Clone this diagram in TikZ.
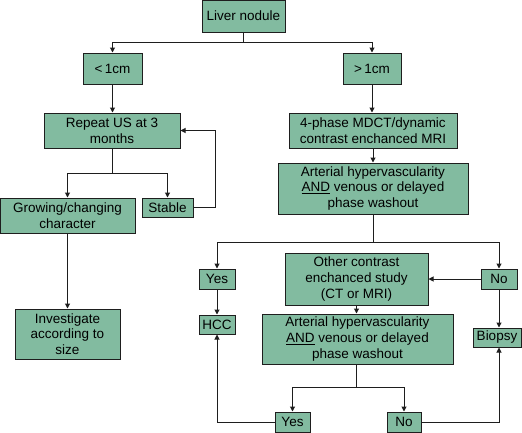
\documentclass[tikz,border=0pt]{standalone}
\usepackage{fontspec}
\setmainfont{Liberation Sans}
\usetikzlibrary{arrows.meta}
\definecolor{boxgreen}{RGB}{130,187,160}
\definecolor{edge}{RGB}{30,30,30}
\tikzset{
  box/.style={draw=edge, fill=boxgreen, line width=1pt, inner sep=0pt, align=center,
    font=\fontsize{13.5}{15.8}\selectfont},
  conn/.style={draw=edge, line width=1pt},
  arr/.style={conn, -{Triangle[length=5pt,width=5pt]}}
}
\begin{document}
\begin{tikzpicture}[x=1pt,y=-1pt]
\useasboundingbox (0,0) rectangle (522,432);
\node[box, minimum width=83pt, minimum height=32pt] (liver) at (243.5,16) {Liver nodule};
\node[box, minimum width=59pt, minimum height=31pt] (lt) at (112.5,68.5) {<\,1cm};
\node[box, minimum width=58pt, minimum height=31pt] (gt) at (372,68.5) {>\,1cm};
\node[box, minimum width=136pt, minimum height=35pt] (repeat) at (112,130.5) {Repeat US at 3\\months};
\node[box, minimum width=168pt, minimum height=35pt] (phase) at (373,130.5) {4-phase MDCT/dynamic\\contrast enchanced MRI};
\node[box, minimum width=190pt, minimum height=51pt] (art1) at (373,188.5) {Arterial hypervascularity\\\underline{AND} venous or delayed\\phase washout};
\node[box, minimum width=135pt, minimum height=35pt] (grow) at (67.5,215.5) {Growing/changing\\character};
\node[box, minimum width=51pt, minimum height=19pt] (stable) at (167.5,207.5) {Stable};
\node[box, minimum width=105pt, minimum height=50pt] (invest) at (67.5,334) {Investigate\\according to\\size};
\node[box, minimum width=36pt, minimum height=20pt] (yes1) at (217,279) {Yes};
\node[box, minimum width=36pt, minimum height=19pt] (hcc) at (217,324.5) {HCC};
\node[box, minimum width=143pt, minimum height=52pt] (other) at (356.5,279) {Other contrast\\enchanced study\\(CT or MRI)};
\node[box, minimum width=36pt, minimum height=20pt] (no1) at (499,279) {No};
\node[box, minimum width=191pt, minimum height=50pt] (art2) at (357.5,339) {Arterial hypervascularity\\\underline{AND} venous or delayed\\phase washout};
\node[box, minimum width=48pt, minimum height=19pt] (biopsy) at (497,337.5) {Biopsy};
\node[box, minimum width=35pt, minimum height=20pt] (yes2) at (292.5,422) {Yes};
\node[box, minimum width=34pt, minimum height=20pt] (no2) at (404,422) {No};

\coordinate (j1) at (243.5,42);
\coordinate (j2) at (112,173);
\coordinate (s1) at (215,130.5);
\coordinate (j3) at (373,242);
\coordinate (j4) at (356.5,387);

\draw[conn] (liver) -- (j1);
\draw[arr] (j1) -| (lt);
\draw[arr] (j1) -| (gt);
\draw[arr] (lt) -- (lt.south |- repeat.north);
\draw[arr] (gt) -- (gt.south |- phase.north);
\draw[arr] (phase) -- (phase.south |- art1.north);
\draw[conn] (repeat) -- (j2);
\draw[arr] (j2) -| (grow);
\draw[arr] (j2) -| (stable);
\draw[arr] (stable.east) -| (s1) -- (repeat.east);
\draw[arr] (grow) -- (invest);
\draw[conn] (art1) -- (j3);
\draw[arr] (j3) -| (yes1);
\draw[arr] (j3) -| (no1);
\draw[arr] (no1) -- (other);
\draw[arr] (yes1) -- (hcc);
\draw[arr] (no1.south) -- (no1.south |- biopsy.north);
\draw[arr] (other.south) -- (other.south |- art2.north);
\draw[conn] (j4 |- art2.south) -- (j4);
\draw[arr] (j4) -| (yes2);
\draw[arr] (j4) -| (no2);
\draw[arr] (yes2.west) -| (hcc.south);
\draw[arr] (no2.east) -| (no1.south |- biopsy.south);
\end{tikzpicture}
\end{document}
